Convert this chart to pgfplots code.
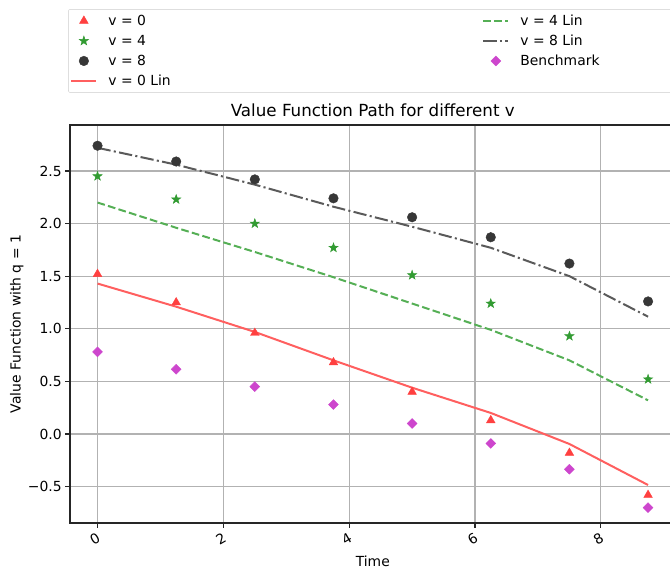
\documentclass[border=0pt]{standalone}
\usepackage{fontspec}
\setmainfont{DejaVu Sans}
\usepackage{pgfplots}
\pgfplotsset{compat=1.18}
\definecolor{cRedM}{RGB}{255,64,64}
\definecolor{cRedL}{RGB}{255,95,95}
\definecolor{cGrnM}{RGB}{50,155,50}
\definecolor{cGrnL}{RGB}{85,175,85}
\definecolor{cBlkM}{RGB}{55,55,55}
\definecolor{cBlkL}{RGB}{90,90,90}
\definecolor{cMag}{RGB}{205,70,205}
\newcommand{\fsn}{\fontsize{13.9}{16.5}\selectfont}
\newcommand{\fst}{\fontsize{16.7}{20}\selectfont}
\pgfdeclareplotmark{fstar}{%
  \pgfpathmoveto{\pgfpointpolar{90}{\pgfplotmarksize}}%
  \pgfpathlineto{\pgfpointpolar{126}{0.4\pgfplotmarksize}}%
  \pgfpathlineto{\pgfpointpolar{162}{\pgfplotmarksize}}%
  \pgfpathlineto{\pgfpointpolar{198}{0.4\pgfplotmarksize}}%
  \pgfpathlineto{\pgfpointpolar{234}{\pgfplotmarksize}}%
  \pgfpathlineto{\pgfpointpolar{270}{0.4\pgfplotmarksize}}%
  \pgfpathlineto{\pgfpointpolar{306}{\pgfplotmarksize}}%
  \pgfpathlineto{\pgfpointpolar{342}{0.4\pgfplotmarksize}}%
  \pgfpathlineto{\pgfpointpolar{18}{\pgfplotmarksize}}%
  \pgfpathlineto{\pgfpointpolar{54}{0.4\pgfplotmarksize}}%
  \pgfpathclose\pgfusepathqfillstroke}
\pgfplotsset{legend image code/.code={\draw[mark repeat=2,mark phase=2,#1] plot coordinates {(0pt,0pt) (12.5pt,0pt) (25pt,0pt)};}}
\begin{document}
\begin{tikzpicture}
\path[use as bounding box] (-70pt,-46pt) rectangle (600pt,523pt);
\clip (-70pt,-46pt) rectangle (600pt,523pt);
\begin{axis}[
  scale only axis, width=605.6pt, height=398pt,
  xmin=-0.4375, xmax=9.1875, ymin=-0.846, ymax=2.937,
  axis line style={black!85, line width=1.1pt},
  xtick={0,2,4,6,8}, xticklabels={0,2,4,6,8},
  ytick={-0.5,0,0.5,1,1.5,2,2.5},
  yticklabels={−0.5,0.0,0.5,1.0,1.5,2.0,2.5},
  xticklabel style={rotate=30, anchor=north east, font=\fsn},
  yticklabel style={font=\fsn},
  tick align=outside, xtick pos=bottom, ytick pos=left,
  major tick length=4.8pt, tick style={black!85, line width=1.1pt},
  grid=major, grid style={color=black!30, line width=1.1pt},
  title={Value Function Path for different v},
  title style={yshift=-1.3pt, font=\fst},
  xlabel={Time},
  xlabel style={at={(axis description cs:0.5,0)}, anchor=north, yshift=-29pt, font=\fsn},
  ylabel={Value Function with q = 1},
  ylabel style={at={(axis description cs:-0.071,0.5)}, anchor=south, font=\fsn},
  legend columns=2,
  legend cell align=left,
  legend style={at={(axis description cs:-0.003,1.081)}, anchor=south west,
    draw=black!20, rounded corners=2pt, font=\fsn, row sep=4pt,
    inner xsep=2pt, inner ysep=3.5pt,
    /tikz/every odd column/.append style={column sep=9pt}},
]
\addplot[only marks, mark=triangle*, mark size=5pt, color=cRedM] coordinates {
(0,1.52) (1.25,1.25) (2.5,0.96) (3.75,0.68) (5,0.40) (6.25,0.13) (7.5,-0.18) (8.75,-0.58)};
\addlegendentry{\makebox[372pt][l]{v = 0}}
\addplot[no marks, color=cGrnL, line width=2pt, dash pattern=on 7.7pt off 3.3pt] coordinates {
(0,2.20) (1.25,1.96) (2.5,1.73) (3.75,1.49) (5,1.24) (6.25,0.99) (7.5,0.70) (8.75,0.32)};
\addlegendentry{\makebox[160pt][l]{v = 4 Lin}}
\addplot[only marks, mark=fstar, mark size=4.8pt, color=cGrnM, mark options={fill=cGrnM, line width=0.5pt}] coordinates {
(0,2.45) (1.25,2.23) (2.5,2.00) (3.75,1.77) (5,1.51) (6.25,1.24) (7.5,0.93) (8.75,0.52)};
\addlegendentry{v = 4}
\addplot[no marks, color=cBlkL, line width=2pt, dash pattern=on 13.3pt off 3.3pt on 2.1pt off 3.3pt] coordinates {
(0,2.72) (1.25,2.56) (2.5,2.37) (3.75,2.16) (5,1.97) (6.25,1.77) (7.5,1.50) (8.75,1.115)};
\addlegendentry{v = 8 Lin}
\addplot[only marks, mark=*, mark size=4.8pt, color=cBlkM] coordinates {
(0,2.74) (1.25,2.59) (2.5,2.42) (3.75,2.24) (5,2.06) (6.25,1.87) (7.5,1.62) (8.75,1.26)};
\addlegendentry{v = 8}
\addplot[only marks, mark=square*, mark size=3.5pt, color=cMag, mark options={rotate=45}] coordinates {
(0,0.78) (1.25,0.615) (2.5,0.45) (3.75,0.28) (5,0.10) (6.25,-0.09) (7.5,-0.335) (8.75,-0.70)};
\addlegendentry{Benchmark}
\addplot[no marks, color=cRedL, line width=2pt] coordinates {
(0,1.43) (1.25,1.21) (2.5,0.97) (3.75,0.70) (5,0.44) (6.25,0.20) (7.5,-0.095) (8.75,-0.485)};
\addlegendentry{v = 0 Lin}
\end{axis}
\end{tikzpicture}
\end{document}
